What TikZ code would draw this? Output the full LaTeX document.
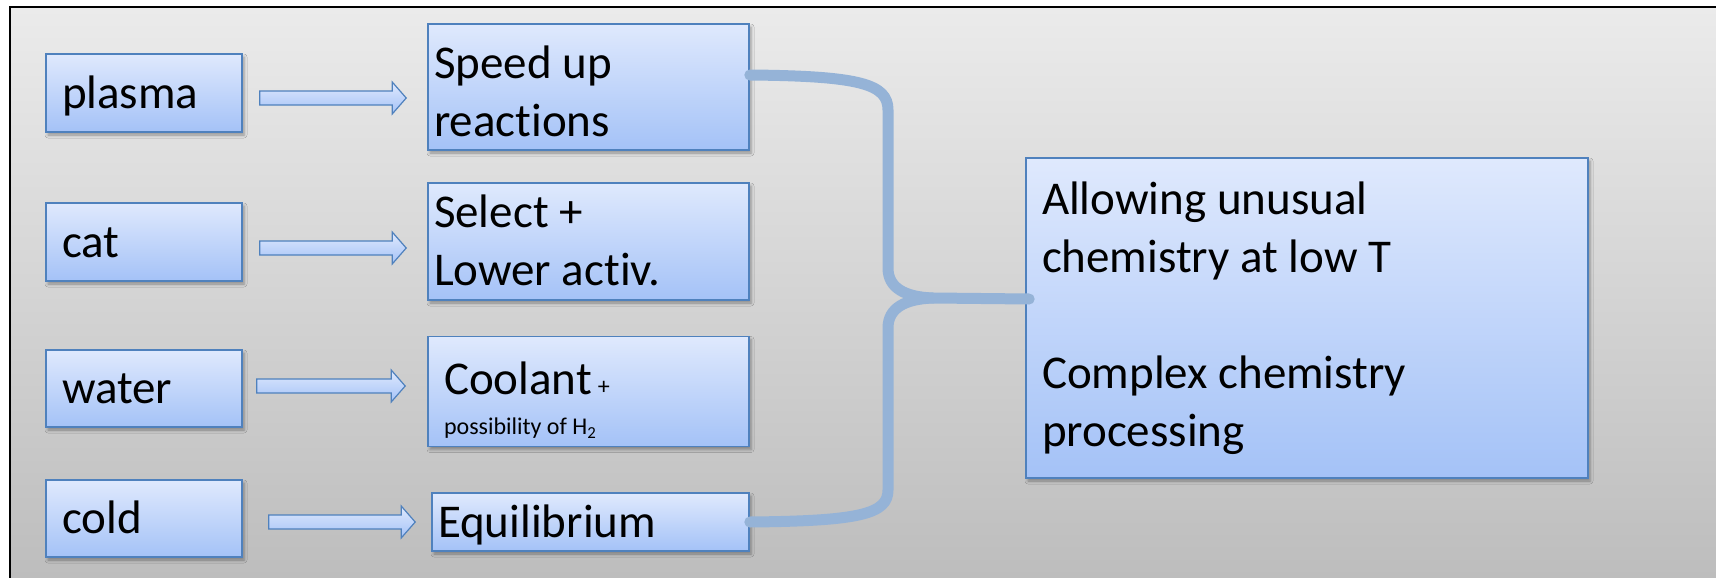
\documentclass[tikz,border=0pt]{standalone}
\usepackage{fontspec}
\setmainfont{Carlito}[Ligatures=NoCommon]
\usepackage{xcolor}
\usetikzlibrary{calc,shadows.blur}

\definecolor{boxtop}{HTML}{DFE9FD}
\definecolor{boxbot}{HTML}{A4C2F7}
\definecolor{boxline}{HTML}{4F81BD}
\definecolor{bracecol}{HTML}{95B3D7}
\definecolor{bgtop}{HTML}{EBEBEB}
\definecolor{bgbot}{HTML}{BDBDBD}

% block arrow between two points (same height)
\newcommand{\blkarrow}[2]{%
  \path[arrowbody] let \p1=(#1), \p2=(#2) in
    (\x1,{\y1+7pt}) -- ({\x2-14pt},{\y1+7pt}) -- ({\x2-14pt},{\y1+16pt}) -- (\x2,\y1)
    -- ({\x2-14pt},{\y1-16pt}) -- ({\x2-14pt},{\y1-7pt}) -- (\x1,{\y1-7pt}) -- cycle;}

\begin{document}
\begin{tikzpicture}[x=1pt, y=-1pt,
    blk/.style={draw=boxline, line width=1.6pt, top color=boxtop, bottom color=boxbot,
      align=flush left, inner ysep=2pt, inner xsep=16pt,
      font=\fontsize{47}{58}\selectfont,
      blur shadow={shadow xshift=2pt, shadow yshift=-3pt, shadow blur radius=3pt, shadow opacity=35}},
    txtdown/.style={execute at begin node={\rule{0pt}{#1}}, execute at end node={\rule[-10pt]{0pt}{10pt}}},
    txtdown/.default=40pt,
    arrowbody/.style={draw=boxline, line width=1.2pt, top color=boxtop, bottom color=boxbot},
    brace/.style={draw=bracecol, line width=11pt, line cap=round, line join=round}]
  \useasboundingbox (0,0) rectangle (1716,578);

  % Background panel
  \fill[top color=bgtop, bottom color=bgbot] (10,7) rectangle (1716,578);
  \draw[black, line width=2.5pt] (10,578) -- (10,7) -- (1716,7);

  % Causes
  \node[blk, txtdown, minimum width=196pt, text width=164pt, minimum height=78pt] (plasma) at (144,93) {plasma};
  \node[blk, txtdown, minimum width=196pt, text width=164pt, minimum height=78pt] (cat) at (144,242) {cat};
  \node[blk, txtdown, minimum width=196pt, text width=164pt, minimum height=77pt] (water) at (144,388.5) {water};
  \node[blk, txtdown, minimum width=196pt, text width=164pt, minimum height=77pt] (cold) at (144,518.5) {cold};

  % Effects
  \node[blk, txtdown=51pt, inner xsep=6pt, minimum width=321pt, text width=309pt, minimum height=126pt] (speed) at (588.5,87)
    {Speed up\\reactions};
  \node[blk, txtdown, inner xsep=6pt, minimum width=321pt, text width=309pt, minimum height=117pt] (select) at (588.5,241.5)
    {Select +\\Lower activ.};
  \node[blk, txtdown=56pt, minimum width=321pt, text width=289pt, minimum height=109pt] (coolant) at (588.5,391.5)
    {Coolant\hspace{6pt}{\fontsize{24}{29}\selectfont +}\\[-18pt]{\fontsize{24}{29}\selectfont possibility of H\textsubscript{2}}};
  \node[blk, txtdown, inner xsep=6pt, minimum width=317pt, text width=305pt, minimum height=58pt] (equil) at (590.5,522)
    {Equilibrium};

  % Result
  \node[blk, minimum width=562pt, text width=530pt, minimum height=320pt] (result) at (1307,318)
    {Allowing unusual\\chemistry at low T\\[58pt]Complex chemistry\\processing};

  % Arrows
  \blkarrow{$(plasma.east)+(17,5)$}{$(speed.west)+(-21,5)$}
  \blkarrow{$(cat.east)+(17,6)$}{$(select.west)+(-21,6)$}
  \blkarrow{$(water.east)+(14,-2.5)$}{$(coolant.west)+(-22,-2.5)$}
  \blkarrow{$(cold.east)+(26,3.5)$}{$(equil.west)+(-16,3.5)$}

  % Brace
  \coordinate (tip) at (933,298);
  \draw[brace] ($(speed.east)+(0,-12)$) .. controls (860,76) and (888,84) .. (888,110)
    -- (888,268) .. controls (888,288) and (905,297) .. (tip) -- ($(result.west)+(4,-19)$);
  \draw[brace] (equil.east) .. controls (860,521) and (888,514) .. (888,490)
    -- (888,328) .. controls (888,308) and (905,299) .. (tip);
\end{tikzpicture}
\end{document}
